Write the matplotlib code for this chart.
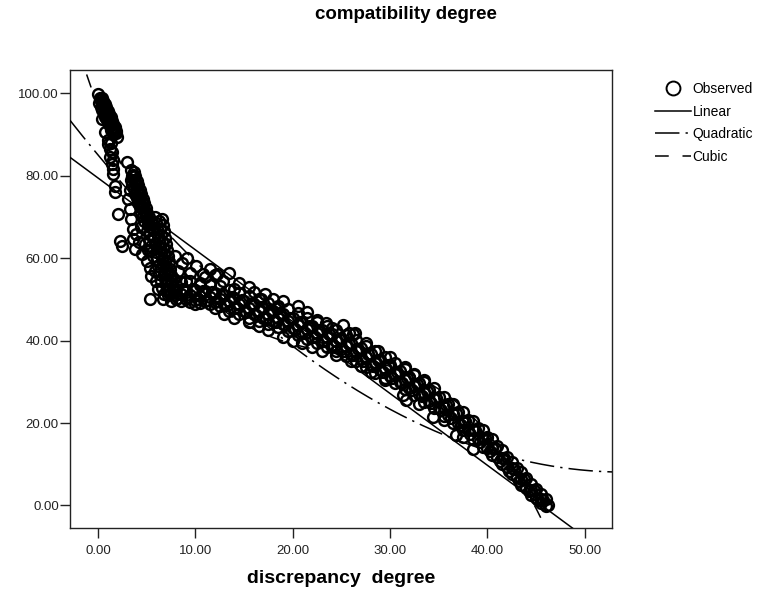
import numpy as np
import matplotlib
matplotlib.use('Agg')
import matplotlib.pyplot as plt
from matplotlib.lines import Line2D

plt.rcParams['font.family'] = ['Liberation Sans', 'DejaVu Sans']

# observed points
top_x = [0.05, 0.2, 0.35, 0.5, 0.65, 0.8, 0.95, 1.1, 1.25, 1.4, 1.55, 1.7, 1.85, 2.0,
         0.4, 0.55, 0.7, 0.85, 1.0, 1.15, 1.3, 1.45, 1.6, 1.75, 1.9,
         0.15, 0.3, 0.45, 0.6, 0.75, 0.9, 1.05, 1.2, 1.35, 1.5,
         0.25, 0.45, 0.65, 0.85, 1.05, 1.25, 1.45, 1.65, 1.8,
         0.38, 0.72, 1.06, 1.06, 1.23, 1.4, 1.23, 1.4, 1.57, 1.57, 1.74, 1.74,
         2.08, 2.26, 2.43, 2.94, 1.6, 1.3]
top_y = [99.9, 99.0, 98.3, 97.5, 96.7, 95.9, 95.1, 94.3, 93.5, 92.7, 91.9, 91.1, 90.3, 89.5,
         99.0, 98.2, 97.4, 96.6, 95.8, 95.0, 94.2, 93.4, 92.6, 91.8, 91.0,
         97.6, 96.8, 96.0, 95.2, 94.4, 93.6, 92.8, 92.0, 91.2, 90.4,
         98.6, 97.6, 96.6, 95.6, 94.6, 93.6, 92.6, 91.6, 90.8,
         93.9, 90.6, 88.8, 87.8, 86.6, 85.8, 84.5, 82.9, 81.7, 80.5, 77.6, 76.0,
         70.7, 64.2, 63.0, 83.3, 83.8, 88.0]

stepB_x = [3.45, 3.6, 3.75, 3.9, 4.05, 4.2, 4.35, 4.5, 4.65, 4.8, 4.95, 5.1,
           3.7, 3.85, 4.0, 4.15, 4.3, 4.45, 4.6, 4.75, 4.9, 5.05, 5.2,
           3.4, 3.55, 3.7, 3.85, 4.0, 4.15, 4.3, 4.45, 4.6, 4.75,
           3.55, 3.8, 4.05, 4.3, 4.55, 4.8, 5.05,
           3.1, 3.28, 3.45, 3.6, 3.6, 3.8, 4.5, 5.0, 5.33, 5.5, 3.3, 3.9, 4.2, 4.4,
           4.8, 5.1, 5.33, 6.7]
stepB_y = [81.3, 80.2, 79.1, 78.0, 76.9, 75.8, 74.7, 73.6, 72.5, 71.4, 70.3, 69.2,
           81.0, 79.9, 78.8, 77.7, 76.6, 75.5, 74.4, 73.3, 72.2, 71.1, 70.0,
           79.0, 77.9, 76.8, 75.7, 74.6, 73.5, 72.4, 71.3, 70.2, 69.1,
           80.0, 78.3, 76.4, 74.6, 72.8, 70.9, 69.6,
           74.4, 72.0, 69.5, 67.0, 64.6, 62.2, 61.0, 59.3, 57.7, 55.7, 76.5, 66.0, 64.0, 67.5,
           63.5, 62.0, 50.0, 50.0]

stepC_x = [5.9, 6.0, 6.1, 6.2, 6.3, 6.4, 6.5, 6.6, 6.7, 6.8, 6.9, 7.0, 7.1, 7.2,
           6.6, 6.7, 6.8, 6.9, 7.0, 7.1, 7.2, 7.3, 7.4, 7.5, 7.6, 7.7, 7.8, 7.9,
           6.25, 6.35, 6.45, 6.55, 6.65, 6.75, 6.85, 6.95, 7.05, 7.15, 7.3, 7.45,
           5.6, 5.7, 5.8, 5.9, 6.0, 6.1, 6.2, 6.3, 6.5, 6.6, 6.8,
           5.4, 5.5, 5.7, 5.9, 6.0, 6.2, 5.0, 5.2, 5.4, 5.1, 5.3]
stepC_y = [70.0, 68.5, 67.0, 65.5, 64.0, 62.5, 61.0, 59.5, 58.0, 56.5, 55.0, 53.5, 52.0, 51.0,
           69.5, 68.0, 66.5, 65.0, 63.5, 62.0, 60.5, 59.0, 57.5, 56.0, 54.5, 53.0, 51.8, 51.0,
           69.0, 67.2, 65.6, 64.0, 62.4, 60.8, 59.2, 57.6, 56.0, 54.4, 52.6, 51.4,
           68.8, 67.0, 65.2, 63.4, 61.6, 59.8, 58.0, 56.2, 54.5, 52.8, 51.2,
           66.0, 63.0, 60.5, 57.0, 54.5, 52.5, 66.5, 64.5, 62.0, 68.0, 67.5]

# long band from x=7.5 to x=46
band_x = [7.5, 8.5, 9.5, 10.5, 11.5, 12.5, 13.5, 14.5, 15.5, 16.5, 17.5, 18.5, 19.5,
          20.5, 21.5, 22.5, 23.5, 24.5, 25.5, 26.5, 27.5, 28.5, 29.5, 30.5, 31.5, 32.5,
          33.5, 34.5, 35.5, 36.5, 37.5, 38.5, 39.5, 40.5, 41.5, 42.5, 43.5, 44.5, 45.5]
band_mid = [51.5, 51.2, 51.0, 50.8, 50.5, 50.2, 49.6, 48.8, 48.0, 47.2, 46.4, 45.6, 44.8,
            43.8, 42.8, 41.8, 40.8, 39.8, 38.6, 37.4, 36.0, 34.6, 33.3, 31.9, 30.5, 29.0,
            27.4, 25.8, 24.0, 22.2, 20.3, 18.3, 16.2, 14.0, 11.6, 9.0, 6.4, 3.8, 1.6]
band_hi = [54.0, 54.2, 54.5, 54.0, 53.6, 53.2, 52.4, 51.6, 50.8, 50.0, 49.2, 48.4, 47.6,
           46.6, 45.6, 44.6, 43.6, 42.6, 41.4, 40.2, 38.8, 37.4, 36.0, 34.6, 33.2, 31.6,
           30.0, 28.4, 26.4, 24.6, 22.6, 20.6, 18.4, 16.0, 13.4, 10.6, 8.0, 5.2, 2.8]
band_lo = [49.5, 49.6, 49.4, 49.2, 49.0, 48.4, 47.2, 46.4, 45.6, 44.8, 44.0, 43.2, 42.4,
           41.4, 40.4, 39.4, 38.4, 37.4, 36.2, 35.0, 33.6, 32.2, 31.0, 29.6, 28.2, 26.8,
           25.2, 23.6, 21.8, 20.0, 18.2, 16.2, 14.2, 12.2, 10.0, 7.6, 5.0, 2.6, 0.6]
half_x = [8.0, 9.0, 10.0, 11.0, 12.0, 13.0, 14.0, 15.0, 16.0, 17.0, 18.0, 19.0, 20.0,
          21.0, 22.0, 23.0, 24.0, 25.0, 26.0, 27.0, 28.0, 29.0, 30.0, 31.0, 32.0, 33.0,
          34.0, 35.0, 36.0, 37.0, 38.0, 39.0, 40.0, 41.0, 42.0, 43.0, 44.0, 45.0, 46.0]
half_up = [52.6, 52.4, 52.2, 52.0, 51.6, 51.1, 50.4, 49.6, 48.8, 48.0, 47.2, 46.4, 45.6,
           44.6, 43.6, 42.6, 41.6, 40.6, 39.4, 38.2, 36.8, 35.4, 34.0, 32.6, 31.2, 29.6,
           28.0, 26.3, 24.5, 22.7, 20.8, 18.8, 16.6, 14.3, 11.8, 9.2, 6.6, 4.0, 1.5]
half_lo = [50.2, 50.0, 49.8, 49.6, 49.4, 48.9, 48.0, 47.2, 46.4, 45.6, 44.8, 44.0, 43.0,
           42.0, 41.0, 40.0, 39.0, 38.0, 36.8, 35.6, 34.2, 32.8, 31.4, 30.0, 28.6, 27.0,
           25.4, 23.7, 21.9, 20.1, 18.2, 16.2, 14.0, 11.8, 9.4, 6.8, 4.2, 1.8, -0.2]
quarter_x = [7.75, 8.75, 9.75, 10.75, 11.75, 12.75, 13.75, 14.75, 15.75, 16.75, 17.75,
             18.75, 19.75, 20.75, 21.75, 22.75, 23.75, 24.75, 25.75, 26.75, 27.75, 28.75,
             29.75, 30.75, 31.75, 32.75, 33.75, 34.75, 35.75, 36.75, 37.75, 38.75, 39.75,
             40.75, 41.75, 42.75, 43.75, 44.75, 45.75]
quarter_y = [52.3, 52.6, 52.5, 52.0, 51.8, 51.2, 50.6, 49.8, 49.0, 48.2, 47.4, 46.6, 45.6,
             44.6, 43.6, 42.6, 41.6, 40.5, 39.3, 38.0, 36.7, 35.3, 34.0, 32.5, 31.0, 29.4,
             27.8, 26.1, 24.3, 22.4, 20.5, 18.4, 16.3, 14.0, 11.5, 8.9, 6.3, 3.7, 1.4]
tq_x = [8.25, 9.25, 10.25, 11.25, 12.25, 13.25, 14.25, 15.25, 16.25, 17.25, 18.25, 19.25,
        20.25, 21.25, 22.25, 23.25, 24.25, 25.25, 26.25, 27.25, 28.25, 29.25, 30.25, 31.25,
        32.25, 33.25, 34.25, 35.25, 36.25, 37.25, 38.25, 39.25, 40.25, 41.25, 42.25, 43.25,
        44.25, 45.25, 46.25]
tq_y = [50.3, 50.6, 50.2, 49.9, 49.5, 48.6, 47.8, 47.0, 46.2, 45.4, 44.6, 43.8, 42.8,
        41.8, 40.8, 39.8, 38.8, 37.6, 36.4, 35.1, 33.8, 32.4, 31.0, 29.6, 28.1, 26.5,
        24.9, 23.1, 21.3, 19.4, 17.4, 15.4, 13.2, 10.9, 8.4, 5.9, 3.4, 1.2, 0.0]

extra_x = [8.6, 10.1, 9.5, 11.0, 12.0, 13.5, 12.8, 14.5, 15.5, 16.0, 17.2, 18.0, 19.0,
           20.5, 21.5, 23.4, 24.0, 25.2, 25.8, 26.4, 26.2, 27.5, 28.8, 30.0, 31.5, 32.5,
           33.5, 7.8, 8.2, 9.0, 10.5, 11.5, 14.0, 16.8, 18.5, 22.5, 7.9, 9.1, 10.8, 12.2,
           10.0, 12.0, 13.0, 14.0, 15.5, 16.5, 17.5, 19.0, 20.0, 21.0, 22.0, 23.0, 24.5,
           26.0, 27.0, 28.0, 29.5, 31.3, 31.6, 33.0, 34.4, 35.5, 36.8, 37.5, 38.5]
extra_y = [58.9, 58.1, 56.5, 55.5, 56.0, 56.5, 54.5, 54.0, 53.0, 51.8, 51.2, 50.0, 49.5,
           48.5, 47.0, 44.3, 43.0, 43.9, 41.9, 41.9, 41.5, 39.5, 37.5, 36.0, 33.5, 32.0,
           30.5, 55.0, 57.0, 54.5, 53.5, 57.5, 52.5, 50.0, 48.0, 45.0, 60.6, 60.1, 56.1, 56.1,
           49.0, 48.0, 46.5, 45.5, 44.5, 43.5, 42.5, 41.0, 40.0, 39.5, 38.5, 37.5, 36.5,
           35.0, 33.8, 32.5, 30.5, 26.8, 25.6, 24.5, 21.5, 20.8, 17.1, 16.5, 13.8]

# fitted curves (coefficients estimated from the drawn lines, lowest power first)
linear_coef = [79.5, -1.744]
quadratic_coef = [85.1, -2.849, 0.02635]
cubic_coef = [96.84, -6.417, 0.2426, -0.003293]

x_ticks = [0, 10, 20, 30, 40, 50]
y_ticks = [0, 20, 40, 60, 80, 100]
x_lim = (-2.87, 52.8)
y_lim = (-5.6, 105.7)

obs_x = np.concatenate([top_x, stepB_x, stepC_x, band_x, band_x, band_x,
                        half_x, half_x, quarter_x, tq_x, extra_x])
obs_y = np.concatenate([top_y, stepB_y, stepC_y, band_mid, band_hi, band_lo,
                        half_up, half_lo, quarter_y, tq_y, extra_y])

fig = plt.figure(figsize=(7.58, 5.95), dpi=100)
ax = fig.add_axes([0.0923, 0.1118, 0.7151, 0.7706])

ax.plot(obs_x, obs_y, 'o', mfc='none', mec='black', ms=7.8, mew=1.75, zorder=2)

xx = np.linspace(x_lim[0], x_lim[1], 500)
pv = np.polynomial.polynomial.polyval
ax.plot(xx, pv(xx, linear_coef), color='black', lw=1.1, zorder=3)
ax.plot(xx, pv(xx, quadratic_coef), color='black', lw=1.1,
        dashes=(16, 4, 1.5, 4), zorder=3)
ax.plot(xx, pv(xx, cubic_coef), color='black', lw=1.1, dashes=(9, 9), zorder=3)

ax.set_xlim(x_lim)
ax.set_ylim(y_lim)
ax.set_xticks(x_ticks)
ax.set_yticks(y_ticks)
ax.set_xticklabels([f'{v:.2f}' for v in x_ticks])
ax.set_yticklabels([f'{v:.2f}' for v in y_ticks])
ax.tick_params(axis='both', direction='out', length=7, width=1, labelsize=9.5,
               colors='#222222')
ax.tick_params(axis='y', pad=1)
ax.tick_params(axis='x', pad=5)
for s in ax.spines.values():
    s.set_linewidth(1)
    s.set_color('#222222')

ax.set_xlabel('discrepancy  degree', fontsize=14, fontweight='bold', labelpad=9)
fig.text(0.5356, 0.975, 'compatibility degree', ha='center', va='center',
         fontsize=13.5, fontweight='bold')

handles = [
    Line2D([], [], marker='o', ls='none', mfc='none', mec='black', ms=10, mew=1.4,
           label='Observed'),
    Line2D([], [], color='black', lw=1.1, label='Linear'),
    Line2D([], [], color='black', lw=1.1, dashes=(16, 4, 1.5, 4), label='Quadratic'),
    Line2D([], [], color='black', lw=1.1, dashes=(9, 9), label='Cubic'),
]
fig.legend(handles=handles, loc='upper left', bbox_to_anchor=(0.864, 0.862),
           frameon=False, fontsize=10, handlelength=2.6, handletextpad=0.1,
           labelspacing=0.62, borderaxespad=0, borderpad=0)

fig.savefig('out.png', dpi=100)
